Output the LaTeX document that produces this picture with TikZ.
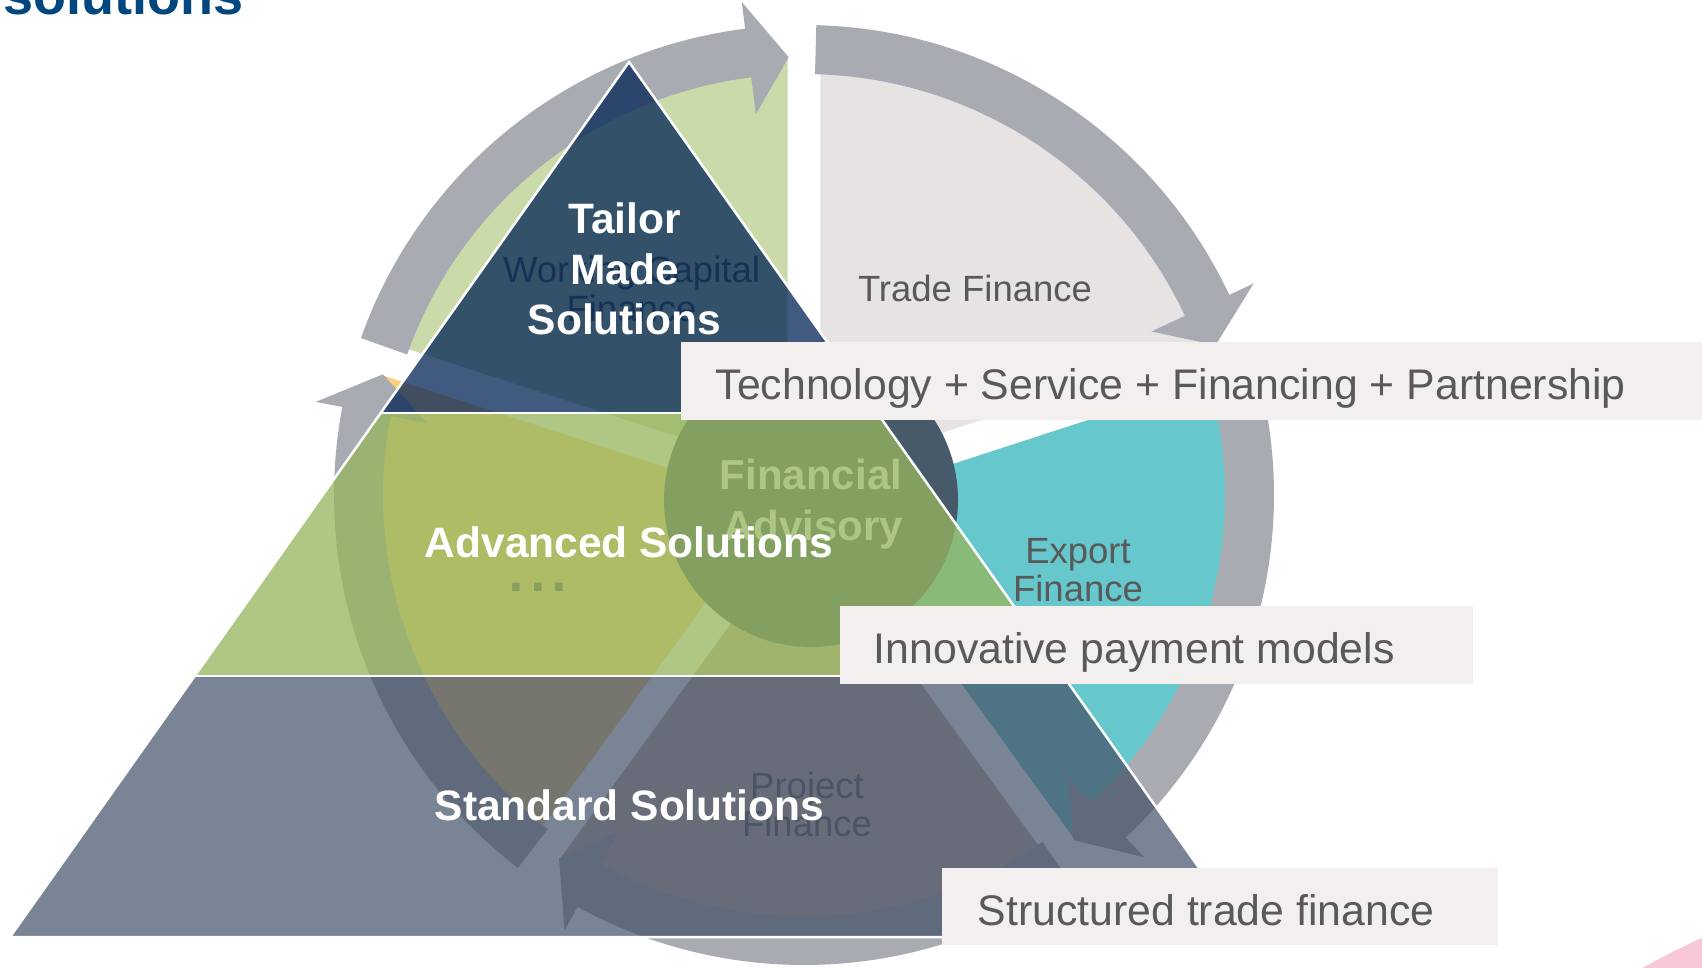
\documentclass[tikz,border=0pt]{standalone}
\usepackage{fontspec}
\setmainfont{Liberation Sans}
\definecolor{ringfill}{RGB}{168,171,178}
\definecolor{tradefill}{RGB}{232,227,227}
\definecolor{exportfill}{RGB}{102,200,204}
\definecolor{projfill}{RGB}{195,175,160}
\definecolor{dotsfill}{RGB}{250,208,124}
\definecolor{wcfill}{RGB}{202,219,169}
\definecolor{circfill}{RGB}{70,90,106}
\definecolor{txtgray}{RGB}{89,89,89}
\definecolor{topfill}{RGB}{2,35,86}
\definecolor{midfill}{RGB}{150,182,95}
\definecolor{botfill}{RGB}{67,82,105}
\definecolor{boxfill}{RGB}{242,239,238}
\definecolor{titleblue}{RGB}{0,70,127}
\definecolor{pinkc}{RGB}{248,200,216}
\newcommand\cyclearrow[3]{% #1 start angle, #2 tip angle, #3 head back angle
  \fill[ringfill] (#1:470) arc[start angle=#1, end angle=#3, radius=470]
    -- (#3:497) -- (#2:438) -- (#3:384) -- (#3:421)
    arc[start angle=#3, end angle=#1, radius=421] -- cycle;}
\newcommand\cyclesector[3]{% #1 from angle, #2 to angle, #3 colour
  \fill[#3] ({(#1+#2)/2}:28) -- ++(#1:413)
    arc[start angle=#1, end angle=#2, radius=413] -- cycle;}
\tikzset{
  sectxt/.style={font=\fontsize{36.5}{40}\selectfont, text=txtgray, inner sep=0pt, anchor=base},
  dotstxt/.style={font=\fontsize{78}{80}\selectfont, text=txtgray, inner sep=0pt, anchor=base},
  fatxt/.style={font=\bfseries\fontsize{42}{44}\selectfont, text=white, inner sep=0pt, anchor=base},
  pyrtxt/.style={font=\bfseries\fontsize{42.5}{51}\selectfont, text=white, inner sep=0pt, anchor=base},
  pyrline/.style={draw=white, line width=2.5pt, line join=miter},
  boxst/.style={fill=boxfill, inner xsep=0pt, inner ysep=0pt, text height=57.5pt,
    text depth=20.3pt, anchor=base west, font=\fontsize{42.8}{50}\selectfont, text=txtgray},
}
\begin{document}
\begin{tikzpicture}[x=1pt, y=1pt]
\useasboundingbox (0,0) rectangle (1702,967);
\clip (0,0) rectangle (1702,967);
% pink circle fragment
\fill[pinkc] (1986,-611) circle[radius=700];
% cycle: sectors and arrows
\begin{scope}[shift={(804,472)}]
  \cyclesector{18}{90}{tradefill}
  \cyclesector{-54}{18}{exportfill}
  \cyclesector{-126}{-54}{projfill}
  \cyclesector{162}{234}{dotsfill}
  \cyclesector{90}{162}{wcfill}
  \cyclearrow{88.5}{20}{25.2}
  \cyclearrow{16.5}{-52}{-46.8}
  \cyclearrow{-55.5}{-124}{-118.8}
  \cyclearrow{232.5}{164}{169.2}
  \cyclearrow{160.5}{92}{97.2}
\end{scope}
% centre circle
\node[circle, fill=circfill, minimum size=294pt, inner sep=0pt] (fa) at (811,467) {};
% sector labels
\node[sectxt] (trade) at (975,665.3) {Trade Finance};
\node[sectxt] (export1) at (1078,403.7) {Export};
\node[sectxt] (export2) at (1078,365.3) {Finance};
\node[sectxt] (project1) at (807,168.7) {Project};
\node[sectxt] (project2) at (807,130.3) {Finance};
\node[sectxt] (wc1) at (631.5,684) {Working Capital};
\node[sectxt] (wc2) at (631.5,645.6) {Finance};
\node[dotstxt] (dots) at (538,375) {...};
\node[fatxt] (fa1) at (811,477.7) {Financial};
\node[fatxt] (fa2) at (813,426) {Advisory};
% pyramid
\fill[topfill, fill opacity=0.75] (629,905) -- (877.3,554) -- (380.7,554) -- cycle;
\fill[midfill, fill opacity=0.77] (380.7,554) -- (877.3,554) -- (1063.3,291) -- (194.7,291) -- cycle;
\fill[botfill, fill opacity=0.713] (194.7,291) -- (1063.3,291) -- (1248,30) -- (10,30) -- cycle;
\draw[pyrline] (629,905) -- (1248,30) -- (10,30) -- cycle;
\draw[pyrline] (380.7,554) -- (877.3,554);
\draw[pyrline] (194.7,291) -- (1063.3,291);
\node[pyrtxt] (tm1) at (624.5,733.7) {Tailor};
\node[pyrtxt] (tm2) at (624.8,682) {Made};
\node[pyrtxt] (tm3) at (624.5,632) {Solutions};
\node[pyrtxt] (adv) at (629,409.7) {Advanced Solutions};
\node[pyrtxt] (std) at (629.5,147) {Standard Solutions};
% boxes
\node[boxst] (box1) at (680.5,567.7) {\makebox[1040pt][l]{\hspace*{35pt}Technology + Service + Financing + Partnership}};
\node[boxst] (box2) at (840,303.7) {\makebox[632.5pt][l]{\hspace*{33.5pt}Innovative payment models}};
\node[boxst] (box3) at (942,42) {\makebox[556pt][l]{\hspace*{35.5pt}Structured trade finance}};
% cropped title
\node[anchor=base west, inner sep=0pt, font=\bfseries\fontsize{54}{60}\selectfont, text=titleblue] (title) at (3,952) {solutions};
\end{tikzpicture}
\end{document}
